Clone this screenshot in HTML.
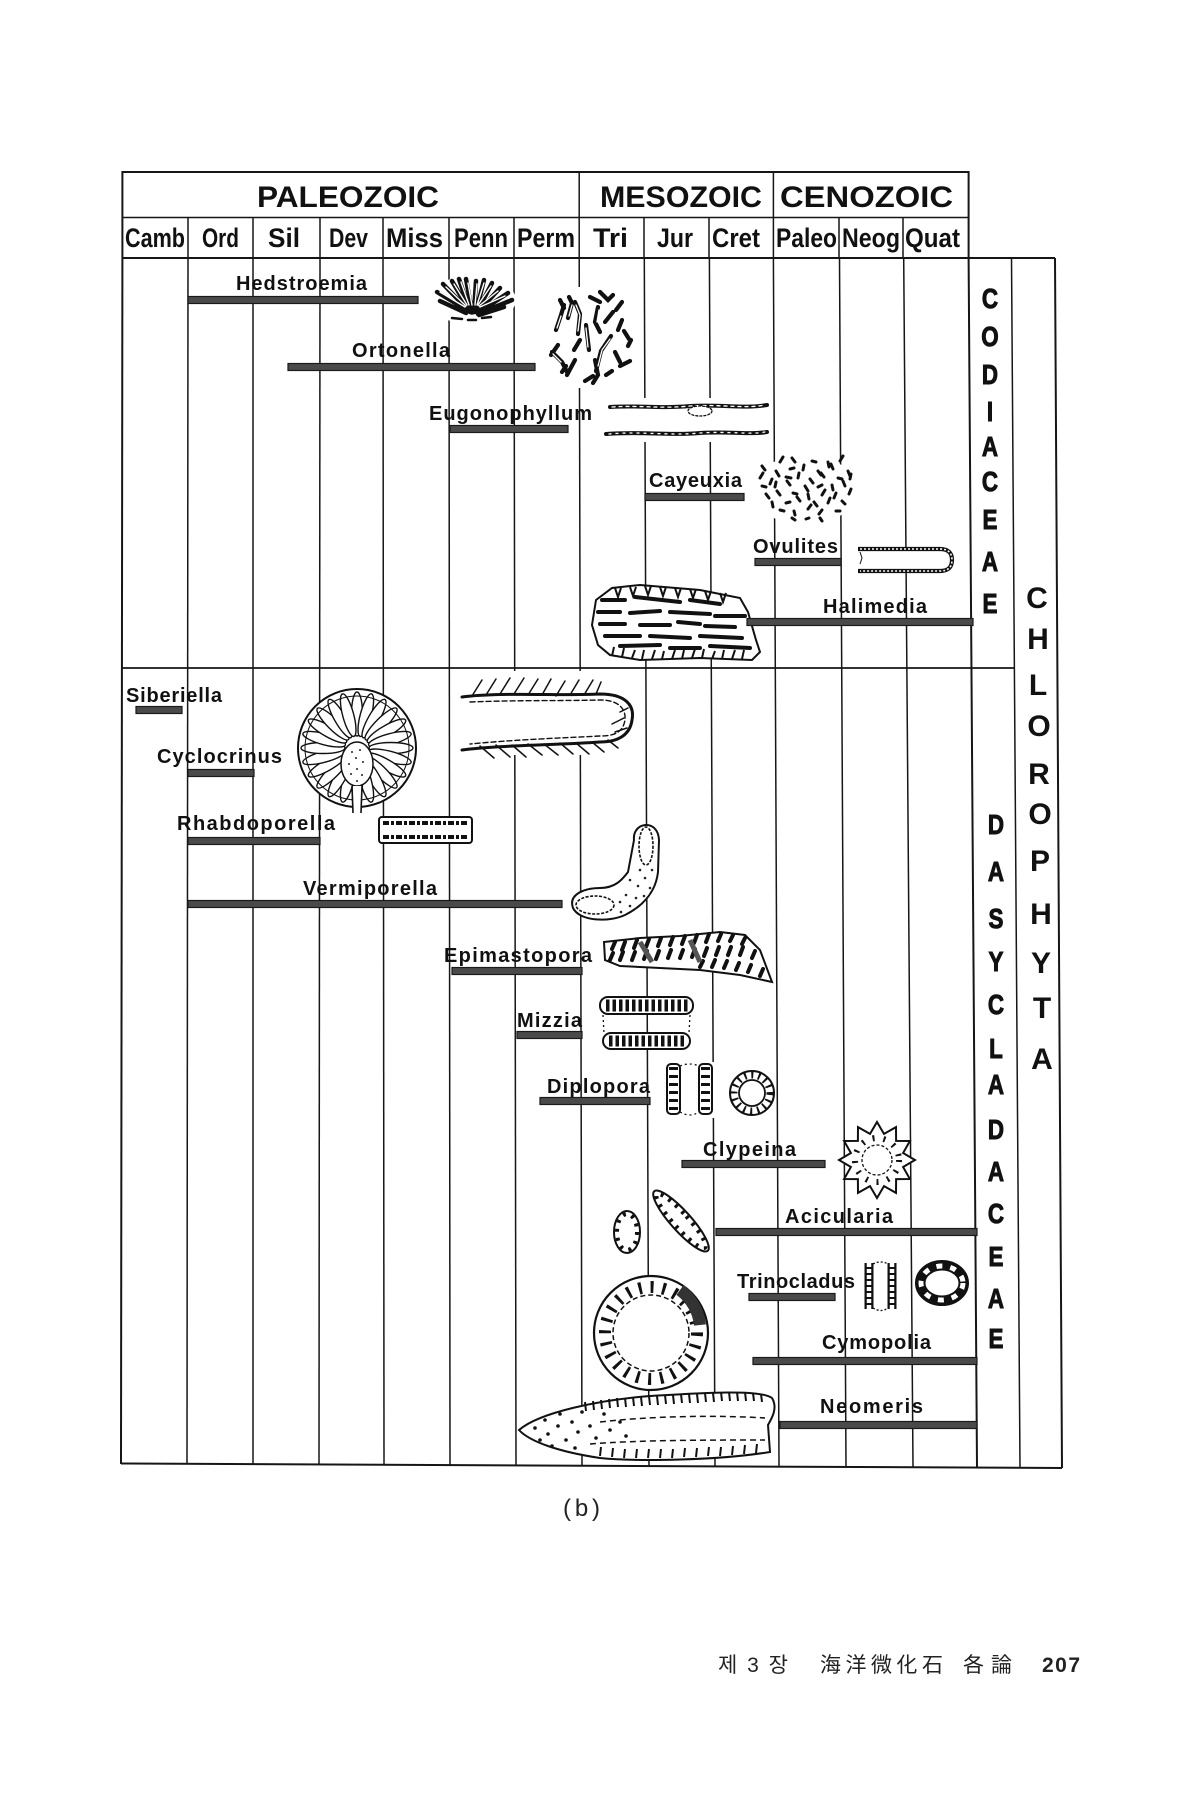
<!DOCTYPE html>
<html>
<head>
<meta charset="utf-8">
<style>
  html,body{margin:0;padding:0;background:#fff;}
  svg{display:block;}
  .lab{font-family:"Liberation Sans",sans-serif;font-weight:bold;font-size:20px;fill:#111;}
  .hdr{font-family:"Liberation Sans",sans-serif;font-weight:bold;font-size:30px;fill:#111;}
  .col{font-family:"Liberation Sans",sans-serif;font-weight:bold;font-size:27px;fill:#111;}
  .fam{font-family:"Liberation Sans",sans-serif;font-weight:bold;font-size:28px;fill:#111;stroke:#111;stroke-width:1;}
  .chl{font-family:"Liberation Sans",sans-serif;font-weight:bold;font-size:30px;fill:#111;}
  .bar{fill:#4a4a4a;stroke:#1a1a1a;stroke-width:1.2;}
  .ln{stroke:#161616;stroke-width:1.5;fill:none;}
  .fig{stroke:#111;fill:#fff;stroke-width:2;}
  .ink{stroke:#111;fill:none;}
</style>
</head>
<body>
<svg width="1200" height="1800" viewBox="0 0 1200 1800" xmlns="http://www.w3.org/2000/svg">
<rect x="0" y="0" width="1200" height="1800" fill="#fff"/>

<!-- ===== HEADER ===== -->
<g class="ln">
  <line x1="122" y1="172" x2="968.6" y2="172" stroke-width="2"/>
  <line x1="122" y1="217.5" x2="968.6" y2="217.5"/>
  <line x1="122" y1="258" x2="1055" y2="258" stroke-width="2"/>
  <line x1="122.4" y1="171" x2="122.4" y2="258" stroke-width="2"/>
  <line x1="579.2" y1="172" x2="579.2" y2="258"/>
  <line x1="773.4" y1="172" x2="773.4" y2="258"/>
  <line x1="968.6" y1="171" x2="968.6" y2="258" stroke-width="2"/>
  <line x1="188" y1="217" x2="188" y2="258"/>
  <line x1="253" y1="217" x2="253" y2="258"/>
  <line x1="320" y1="217" x2="320" y2="258"/>
  <line x1="383" y1="217" x2="383" y2="258"/>
  <line x1="449" y1="217" x2="449" y2="258"/>
  <line x1="514" y1="217" x2="514" y2="258"/>
  <line x1="644" y1="217" x2="644" y2="258"/>
  <line x1="709" y1="217" x2="709" y2="258"/>
  <line x1="839" y1="217" x2="839" y2="258"/>
  <line x1="903" y1="217" x2="903" y2="258"/>
</g>
<text class="hdr" x="257" y="207" textLength="182" lengthAdjust="spacingAndGlyphs">PALEOZOIC</text>
<text class="hdr" x="600" y="207" textLength="162" lengthAdjust="spacingAndGlyphs">MESOZOIC</text>
<text class="hdr" x="780" y="207" textLength="173" lengthAdjust="spacingAndGlyphs">CENOZOIC</text>

<text class="col" x="125" y="247" textLength="60" lengthAdjust="spacingAndGlyphs">Camb</text>
<text class="col" x="202" y="247" textLength="37" lengthAdjust="spacingAndGlyphs">Ord</text>
<text class="col" x="268" y="247" textLength="32" lengthAdjust="spacingAndGlyphs">Sil</text>
<text class="col" x="329" y="247" textLength="39" lengthAdjust="spacingAndGlyphs">Dev</text>
<text class="col" x="386" y="247" textLength="57" lengthAdjust="spacingAndGlyphs">Miss</text>
<text class="col" x="454" y="247" textLength="54" lengthAdjust="spacingAndGlyphs">Penn</text>
<text class="col" x="517" y="247" textLength="58" lengthAdjust="spacingAndGlyphs">Perm</text>
<text class="col" x="593" y="247" textLength="35" lengthAdjust="spacingAndGlyphs">Tri</text>
<text class="col" x="657" y="247" textLength="36" lengthAdjust="spacingAndGlyphs">Jur</text>
<text class="col" x="712" y="247" textLength="48" lengthAdjust="spacingAndGlyphs">Cret</text>
<text class="col" x="776" y="247" textLength="61" lengthAdjust="spacingAndGlyphs">Paleo</text>
<text class="col" x="842" y="247" textLength="58" lengthAdjust="spacingAndGlyphs">Neog</text>
<text class="col" x="905" y="247" textLength="55" lengthAdjust="spacingAndGlyphs">Quat</text>

<!-- ===== BODY GRID ===== -->
<g class="ln">
  <line x1="122.4" y1="258" x2="121" y2="1464" stroke-width="2"/>
  <line x1="188" y1="258" x2="187" y2="1464"/>
  <line x1="253" y1="258" x2="253" y2="1464"/>
  <line x1="320" y1="258" x2="319" y2="1464"/>
  <line x1="383" y1="258" x2="384" y2="1464"/>
  <line x1="449" y1="258" x2="450" y2="1465"/>
  <line x1="514" y1="258" x2="516" y2="1465"/>
  <line x1="579.2" y1="258" x2="582" y2="1465"/>
  <line x1="644.3" y1="258" x2="649" y2="1466"/>
  <line x1="709.4" y1="258" x2="715" y2="1466"/>
  <line x1="773.4" y1="258" x2="779" y2="1466"/>
  <line x1="839.5" y1="258" x2="846" y2="1467"/>
  <line x1="903.7" y1="258" x2="913" y2="1467"/>
  <line x1="968.6" y1="258" x2="977" y2="1467" stroke-width="2"/>
  <line x1="1011.5" y1="258" x2="1020" y2="1468"/>
  <line x1="1055" y1="258" x2="1062" y2="1468" stroke-width="2"/>
  <line x1="121" y1="1463.5" x2="1062" y2="1468" stroke-width="2"/>
  <line x1="122" y1="668" x2="1015" y2="668" stroke-width="1.8"/>
</g>

<!-- ===== FAMILY LETTERS ===== -->
<g transform="translate(990,0) scale(0.8,1)" class="fam" text-anchor="middle">
  <text x="0" y="308">C</text><text x="0" y="346">O</text><text x="0" y="384">D</text>
  <text x="0" y="421">I</text><text x="0" y="456">A</text><text x="0" y="491">C</text>
  <text x="0" y="529">E</text><text x="0" y="571">A</text><text x="0" y="613">E</text>
</g>
<g transform="translate(996,0) scale(0.8,1)" class="fam" text-anchor="middle">
  <text x="0" y="834">D</text><text x="0" y="881">A</text><text x="0" y="928">S</text>
  <text x="0" y="971">Y</text><text x="0" y="1014">C</text><text x="0" y="1058">L</text>
  <text x="0" y="1094">A</text><text x="0" y="1139">D</text><text x="0" y="1181">A</text>
  <text x="0" y="1223">C</text><text x="0" y="1266">E</text><text x="0" y="1308">A</text>
  <text x="0" y="1348">E</text>
</g>
<g class="chl" text-anchor="middle">
  <text x="1037" y="608">C</text><text x="1038" y="649">H</text><text x="1038" y="695">L</text>
  <text x="1039" y="736">O</text><text x="1039" y="784">R</text><text x="1040" y="824">O</text>
  <text x="1040" y="871">P</text><text x="1041" y="924">H</text><text x="1041" y="973">Y</text>
  <text x="1042" y="1018">T</text><text x="1042" y="1069">A</text>
</g>

<!-- ===== FIGURES (upper, Codiaceae) ===== -->
<!-- Hedstroemia -->
<ellipse cx="472" cy="300" rx="44" ry="24" fill="#fff"/>
<g stroke-linecap="round">
  <g stroke="#111" stroke-width="4.5" fill="none">
    <path d="M470 312 L437 292 M470 312 L443 284 M470 312 L452 281 M470 312 L459 279 M472 312 L466 279 M474 312 L476 281 M476 312 L484 280 M477 312 L492 283 M478 312 L500 288 M478 313 L508 293 M478 314 L512 300 M466 313 L440 301 M479 315 L504 307"/>
  </g>
  <g stroke="#fff" stroke-width="1.4" fill="none">
    <path d="M465 307 L440 292 M466 306 L446 287 M467 305 L454 284 M469 305 L461 282 M472 305 L468 283 M475 305 L477 284 M477 305 L484 283 M478 305 L491 286 M479 306 L498 291 M480 307 L505 296"/>
  </g>
  <circle cx="472" cy="311" r="3" class="ink" stroke-width="1.5"/>
  <path d="M452 318 l10 1 M468 320 l8 0 M482 318 l9 -1" class="ink" stroke-width="2.5"/>
</g>
<!-- Ortonella -->
<rect x="545" y="287" width="92" height="101" fill="#fff"/>
<g stroke-linecap="round" fill="none">
  <path stroke="#111" stroke-width="4.2" d="M556 330 l5 -15 l3 -10 M558 345 l-7 10 M552 352 l10 10 l5 10 M568 318 l4 -15 l-3 -6 M575 302 l5 12 l-2 20 M586 325 l3 25 M590 297 l10 5 M598 307 l-3 15 l5 10 M605 322 l8 -10 M611 336 l-10 15 l-5 20 M615 352 l5 10 M620 366 l10 -5 M575 360 l-8 15 M595 360 l3 15 l-5 8 M624 331 l5 8 M600 292 l8 8 l5 -5 M585 381 l8 -5 M606 375 l6 -4 M628 346 l3 -6 M562 372 l4 -6 M580 340 l-6 10 M616 310 l6 -8 M560 300 l4 8 M622 320 l-4 10"/>
  <path stroke="#fff" stroke-width="1.3" d="M557 328 l4 -12 M569 316 l3 -11 M576 305 l4 10 l-2 16 M586 328 l2 19 M599 310 l-2 12 M610 339 l-8 11 l-4 16 M553 354 l8 8"/>
</g>
<!-- Eugonophyllum -->
<rect x="600" y="398" width="172" height="44" fill="#fff"/>
<g stroke-linecap="round" fill="none">
  <path d="M610 407 C640 405 660 409 690 406 C720 404 745 409 767 405" stroke="#111" stroke-width="4"/>
  <path d="M612 407 C640 405 660 409 690 406 C720 404 745 409 765 405" stroke="#fff" stroke-width="1.3" stroke-dasharray="3 4"/>
  <ellipse cx="700" cy="411" rx="12" ry="5" stroke="#111" stroke-width="1.3" stroke-dasharray="2 2" fill="#fff"/>
  <path d="M606 434 C640 431 670 436 700 433 C730 431 750 435 767 432" stroke="#111" stroke-width="4"/>
  <path d="M609 434 C640 431 670 436 700 433 C730 431 750 435 765 432" stroke="#fff" stroke-width="1.3" stroke-dasharray="2 5"/>
</g>
<!-- Cayeuxia -->
<ellipse cx="805" cy="490" rx="52" ry="35" fill="#fff"/>
<path stroke="#111" stroke-width="3" stroke-linecap="round" fill="none" d="
M780 462l3-5M795 462l-3-4M812 461l4 1M828 462l1 5M840 461l3-5
M765 470l-3-4M776 471l3 5M790 469l4-1M803 470l1-5M818 471l3 4M833 469l-2-5M848 471l2 5
M760 478l3-5M772 479l-2 5M786 477l5 1M798 478l1-5M810 479l3 4M824 477l-3-4M838 478l4 1M850 479l1-5
M762 486l4 1M775 487l1-5M790 485l-3-4M805 486l3 5M818 487l4-2M832 485l1 5M845 486l-2-5
M766 494l3 4M780 495l-3-4M793 493l4 1M808 494l1 5M822 495l3-5M836 493l-2 5M849 494l2-5
M772 502l1 5M786 503l4-1M800 501l-3-4M814 502l3 4M828 503l2-5M842 501l3 3
M780 510l4 1M794 511l1 4M808 509l3-4M822 510l-3 4M836 511l4 0
M792 518l3 2M806 519l3-1M820 518l2 3"/>
<!-- Ovulites -->
<path d="M858 549 L940 549 Q952 549 952 560 Q952 571 940 571 L858 571" stroke="#111" stroke-width="4.2" fill="#fff"/>
<path d="M860 549 L940 549 Q952 549 952 560 Q952 571 940 571 L860 571" stroke="#fff" stroke-width="1.6" fill="none" stroke-dasharray="2 2"/>
<path d="M860 552 l2 6 l-2 6" class="ink" stroke-width="1"/>
<!-- Halimedia slab -->
<polygon points="596,600 612,588 640,585 700,590 740,598 748,612 756,640 760,652 752,660 700,658 640,660 610,655 598,645 592,625" class="fig"/>
<g stroke="#111" stroke-width="4" stroke-linecap="round">
  <path d="M602 600 L625 600 M635 597 L680 602 M690 600 L720 604 M598 612 L620 612 M630 613 L660 611 M670 612 L710 614 M715 616 L745 616 M600 624 L625 624 M640 625 L670 625 M678 622 L700 624 M705 626 L735 627 M605 636 L640 636 M650 636 L690 638 M700 636 L742 638 M620 646 L660 645 M670 648 L700 648 M710 646 L750 648"/>
</g>
<g stroke="#111" stroke-width="2" fill="none">
  <path d="M615 588 l3 9 l3-9 M630 587 l3 9 l3-9 M645 586 l3 9 l3-9 M660 587 l3 9 l3-9 M675 588 l3 9 l3-9 M690 589 l3 9 l3-9 M705 591 l3 9 l3-9 M720 593 l3 9 l3-9"/>
  <path d="M612 656 l2-9 M622 657 l2-9 M632 658 l3-8 M642 659 l2-9 M652 659 l3-9 M662 659 l2-8 M672 659 l3-9 M682 659 l2-9 M692 658 l3-9 M702 658 l2-9 M712 659 l3-8 M722 659 l2-9 M732 659 l3-9 M742 659 l2-9"/>
</g>

<!-- ===== LABELS & BARS (upper) ===== -->
<text class="lab" x="236" y="290" textLength="131" lengthAdjust="spacing">Hedstroemia</text>
<rect class="bar" x="188" y="296.5" width="230" height="7"/>
<text class="lab" x="352" y="357" textLength="98" lengthAdjust="spacing">Ortonella</text>
<rect class="bar" x="288" y="363.5" width="247" height="7"/>
<text class="lab" x="429" y="420" textLength="163" lengthAdjust="spacing">Eugonophyllum</text>
<rect class="bar" x="450" y="425.5" width="118" height="7"/>
<text class="lab" x="649" y="487" textLength="93" lengthAdjust="spacing">Cayeuxia</text>
<rect class="bar" x="645" y="493.5" width="99" height="7"/>
<text class="lab" x="753" y="553" textLength="85" lengthAdjust="spacing">Ovulites</text>
<rect class="bar" x="755" y="558.5" width="86" height="7"/>
<text class="lab" x="823" y="613" textLength="104" lengthAdjust="spacing">Halimedia</text>
<rect class="bar" x="747" y="618.5" width="226" height="7"/>

<!-- ===== FIGURES (lower, Dasycladaceae) ===== -->
<!-- hook-shaped filament -->
<rect x="458" y="671" width="180" height="84" fill="#fff"/>
<g fill="none" stroke="#111" stroke-linecap="round">
  <path d="M462 697 C500 692 560 696 600 694 C625 694 635 705 632 720 C630 735 618 742 600 742 C560 745 500 745 462 750" stroke-width="3"/>
  <path d="M470 702 C520 700 560 701 600 700 C620 700 626 710 625 720 C623 732 615 736 600 736 C560 738 510 740 470 744" stroke-width="1.4" stroke-dasharray="5 3"/>
  <path d="M472 696 l10 -16 M486 695 l10 -16 M500 694 l10 -16 M514 694 l10 -16 M528 695 l10 -16 M542 695 l9 -16 M556 696 l9 -15 M570 695 l9 -15 M584 695 l9 -15 M596 694 l5 -12" stroke-width="1.5"/>
  <path d="M480 746 l14 12 M496 745 l14 12 M512 745 l14 12 M528 744 l14 11 M544 744 l14 11 M560 743 l13 11 M576 743 l13 11 M592 742 l12 10 M608 740 l10 8" stroke-width="1.5"/>
  <path d="M612 724 l12 -6 M615 732 l12 -4 M620 712 l8 -4" stroke-width="1.5"/>
</g>
<!-- Cyclocrinus -->
<circle cx="357" cy="748" r="59" class="fig" stroke-width="2.2"/>
<g fill="#fff" stroke="#111" stroke-width="1.4">
  <ellipse cx="357" cy="714" rx="5.5" ry="22" transform="rotate(0 357 748)"/>
  <ellipse cx="357" cy="714" rx="5.5" ry="22" transform="rotate(15 357 748)"/>
  <ellipse cx="357" cy="714" rx="5.5" ry="22" transform="rotate(30 357 748)"/>
  <ellipse cx="357" cy="714" rx="5.5" ry="22" transform="rotate(45 357 748)"/>
  <ellipse cx="357" cy="714" rx="5.5" ry="22" transform="rotate(60 357 748)"/>
  <ellipse cx="357" cy="714" rx="5.5" ry="22" transform="rotate(75 357 748)"/>
  <ellipse cx="357" cy="714" rx="5.5" ry="22" transform="rotate(90 357 748)"/>
  <ellipse cx="357" cy="714" rx="5.5" ry="22" transform="rotate(105 357 748)"/>
  <ellipse cx="357" cy="714" rx="5.5" ry="22" transform="rotate(120 357 748)"/>
  <ellipse cx="357" cy="714" rx="5.5" ry="22" transform="rotate(135 357 748)"/>
  <ellipse cx="357" cy="714" rx="5.5" ry="22" transform="rotate(150 357 748)"/>
  <ellipse cx="357" cy="714" rx="5.5" ry="22" transform="rotate(165 357 748)"/>
  <ellipse cx="357" cy="714" rx="5.5" ry="22" transform="rotate(180 357 748)"/>
  <ellipse cx="357" cy="714" rx="5.5" ry="22" transform="rotate(195 357 748)"/>
  <ellipse cx="357" cy="714" rx="5.5" ry="22" transform="rotate(210 357 748)"/>
  <ellipse cx="357" cy="714" rx="5.5" ry="22" transform="rotate(225 357 748)"/>
  <ellipse cx="357" cy="714" rx="5.5" ry="22" transform="rotate(240 357 748)"/>
  <ellipse cx="357" cy="714" rx="5.5" ry="22" transform="rotate(255 357 748)"/>
  <ellipse cx="357" cy="714" rx="5.5" ry="22" transform="rotate(270 357 748)"/>
  <ellipse cx="357" cy="714" rx="5.5" ry="22" transform="rotate(285 357 748)"/>
  <ellipse cx="357" cy="714" rx="5.5" ry="22" transform="rotate(300 357 748)"/>
  <ellipse cx="357" cy="714" rx="5.5" ry="22" transform="rotate(315 357 748)"/>
  <ellipse cx="357" cy="714" rx="5.5" ry="22" transform="rotate(330 357 748)"/>
  <ellipse cx="357" cy="714" rx="5.5" ry="22" transform="rotate(345 357 748)"/>
</g>
<circle cx="357" cy="748" r="52" fill="none" stroke="#111" stroke-width="1"/>
<ellipse cx="357" cy="764" rx="16" ry="22" fill="#fff" stroke="#111" stroke-width="1.5"/>
<g fill="#222">
  <circle cx="352" cy="752" r="1"/><circle cx="360" cy="750" r="1"/><circle cx="356" cy="758" r="1"/>
  <circle cx="349" cy="764" r="1"/><circle cx="363" cy="762" r="1"/><circle cx="357" cy="769" r="1"/>
  <circle cx="351" cy="774" r="1"/><circle cx="362" cy="775" r="1"/><circle cx="357" cy="781" r="1"/>
</g>
<rect x="353" y="786" width="8" height="26" fill="#fff"/>
<path d="M352 786 L353 813 M362 786 L361 813" stroke="#111" stroke-width="1.6" fill="none"/>
<!-- Rhabdoporella -->
<rect x="379" y="817" width="93" height="26" rx="3" class="fig" stroke-width="1.8"/>
<path d="M383 823 L468 823 M383 837 L468 837" stroke="#111" stroke-width="4" stroke-dasharray="6 2 3 2" fill="none"/>
<!-- Vermiporella -->
<path d="M634 840 C632 822 658 818 659 840 L658 872 C656 890 645 905 625 915 C610 922 580 922 573 908 C568 894 585 888 600 888 C615 888 622 880 628 872 Z" class="fig" stroke-width="2.2"/>
<g fill="#222">
  <circle cx="630" cy="880" r="1.3"/><circle cx="638" cy="886" r="1.3"/><circle cx="645" cy="878" r="1.3"/>
  <circle cx="650" cy="888" r="1.3"/><circle cx="626" cy="895" r="1.3"/><circle cx="636" cy="898" r="1.3"/>
  <circle cx="644" cy="896" r="1.3"/><circle cx="630" cy="906" r="1.3"/><circle cx="620" cy="902" r="1.3"/>
  <circle cx="652" cy="870" r="1.3"/><circle cx="640" cy="870" r="1.3"/><circle cx="621" cy="912" r="1.3"/>
</g>
<ellipse cx="646" cy="846" rx="7" ry="19" fill="#fff" stroke="#111" stroke-width="1.6" stroke-dasharray="3 1.5"/>
<ellipse cx="595" cy="905" rx="19" ry="9" fill="#fff" stroke="#111" stroke-width="1.6" stroke-dasharray="3 1.5"/>
<!-- Epimastopora -->
<polygon points="604,942 640,938 680,936 720,932 745,935 760,950 772,982 740,975 700,970 660,968 620,966 605,960" class="fig" stroke-width="1.6"/>
<path stroke="#111" stroke-width="4" stroke-linecap="round" fill="none" d="
M612 949l3-7M622 950l3-8M634 948l3-8M646 947l3-8M658 946l3-8M670 945l3-8M682 944l3-8M694 943l3-8M706 942l3-8M718 941l3-7M730 941l3-6M742 944l3-6
M610 960l3-7M620 960l3-8M632 960l3-8M644 959l3-8M656 959l3-8M668 958l3-8M680 958l3-8M692 957l3-8M704 956l3-8M716 955l3-8M728 955l3-8M740 955l3-8M752 958l3-7
M700 967l3-6M712 967l3-7M724 968l3-7M736 970l3-7M748 972l3-7M760 976l3-7"/>
<path d="M640 942 L652 962 M690 940 L700 962" stroke="#555" stroke-width="5" fill="none"/>
<!-- Mizzia -->
<rect x="600" y="997" width="93" height="17" rx="8" class="fig" stroke-width="2.2"/>
<line x1="606" y1="1005.5" x2="688" y2="1005.5" stroke="#111" stroke-width="12" stroke-dasharray="3.5 3"/>
<rect x="603" y="1033" width="87" height="16" rx="8" class="fig" stroke-width="2.2"/>
<line x1="609" y1="1041" x2="685" y2="1041" stroke="#111" stroke-width="11" stroke-dasharray="3.5 3"/>
<path d="M603 1015 L604 1033 M690 1015 L689 1033" stroke="#111" stroke-width="1.3" stroke-dasharray="2 3" fill="none"/>
<!-- Diplopora -->
<rect x="665" y="1062" width="50" height="56" fill="#fff"/>
<rect x="667" y="1064" width="13" height="50" rx="4" class="fig" stroke-width="2"/>
<line x1="673.5" y1="1067" x2="673.5" y2="1112" stroke="#111" stroke-width="9" stroke-dasharray="3 5"/>
<rect x="699" y="1064" width="13" height="50" rx="4" class="fig" stroke-width="2"/>
<line x1="705.5" y1="1067" x2="705.5" y2="1112" stroke="#111" stroke-width="9" stroke-dasharray="3 5"/>
<path d="M680 1066 Q690 1062 699 1066 M680 1112 Q690 1118 699 1112" stroke="#111" stroke-width="1.3" stroke-dasharray="2 3" fill="none"/>
<circle cx="752" cy="1093" r="22" class="fig" stroke-width="2.2"/>
<circle cx="752" cy="1093" r="18" fill="none" stroke="#111" stroke-width="7" stroke-dasharray="2 5"/>
<circle cx="752" cy="1093" r="13" fill="#fff" stroke="#111" stroke-width="1.8"/>
<!-- Clypeina -->
<polygon points="877,1122 884,1133.9 896,1127.1 896.1,1140.9 909.9,1141 903.1,1153 915,1160 903.1,1167 909.9,1179 896.1,1179.1 896,1192.9 884,1186.1 877,1198 870,1186.1 858,1192.9 857.9,1179.1 844.1,1179 850.9,1167 839,1160 850.9,1153 844.1,1141 857.9,1140.9 858,1127.1 870,1133.9" class="fig" stroke-width="1.8"/>
<circle cx="877" cy="1160" r="15" fill="#fff" stroke="#111" stroke-width="1.3" stroke-dasharray="3 2"/>
<circle cx="877" cy="1160" r="22" fill="none" stroke="#111" stroke-width="6" stroke-dasharray="2 9"/>
<!-- small oval + spindle -->
<ellipse cx="627" cy="1232" rx="13" ry="21" class="fig" stroke-width="2"/>
<ellipse cx="627" cy="1232" rx="10" ry="18" fill="none" stroke="#111" stroke-width="4" stroke-dasharray="3 6"/>
<ellipse cx="681" cy="1221" rx="10" ry="40" class="fig" stroke-width="2" transform="rotate(-42 681 1221)"/>
<ellipse cx="681" cy="1221" rx="7" ry="36" fill="none" stroke="#111" stroke-width="4" stroke-dasharray="3 6" transform="rotate(-42 681 1221)"/>
<!-- Trinocladus figures -->
<rect x="863" y="1260" width="36" height="52" fill="#fff"/>
<line x1="869" y1="1263" x2="869" y2="1309" stroke="#111" stroke-width="9"/>
<line x1="869" y1="1263" x2="869" y2="1309" stroke="#fff" stroke-width="4.5" stroke-dasharray="4 2"/>
<line x1="892" y1="1263" x2="892" y2="1309" stroke="#111" stroke-width="9"/>
<line x1="892" y1="1263" x2="892" y2="1309" stroke="#fff" stroke-width="4.5" stroke-dasharray="4 2"/>
<path d="M873 1264 Q881 1260 888 1264 M873 1308 Q881 1313 888 1308" stroke="#111" stroke-width="1.3" stroke-dasharray="2 2" fill="none"/>
<ellipse cx="942" cy="1283" rx="26" ry="22" fill="#fff" stroke="#111" stroke-width="2"/>
<ellipse cx="942" cy="1283" rx="21" ry="17" fill="none" stroke="#111" stroke-width="9"/>
<ellipse cx="942" cy="1283" rx="21" ry="17" fill="none" stroke="#fff" stroke-width="5" stroke-dasharray="6 8"/>
<!-- big ring -->
<circle cx="651" cy="1333" r="57" fill="#fff" stroke="#111" stroke-width="2.2"/>
<circle cx="651" cy="1333" r="46" fill="none" stroke="#111" stroke-width="12" stroke-dasharray="3 9"/>
<path d="M680 1290 A50 50 0 0 1 700 1325" fill="none" stroke="#333" stroke-width="12"/>
<circle cx="651" cy="1333" r="38" fill="#fff" stroke="#111" stroke-width="1.5" stroke-dasharray="5 3"/>
<!-- Neomeris spindle -->
<path d="M519 1430 C540 1412 600 1400 650 1396 C700 1393 760 1389 772 1398 C778 1408 772 1418 768 1425 L770 1452 C720 1460 640 1462 600 1458 C560 1452 530 1442 519 1430 Z" class="fig" stroke-width="2.2"/>
<path d="M585 1402 l1 9 M593 1401 l1 9 M601 1400 l1 9 M609 1399 l1 9 M617 1398 l1 9 M625 1398 l1 9 M633 1397 l1 9 M641 1397 l1 9 M649 1396 l1 9 M657 1396 l1 9 M665 1395 l1 9 M673 1395 l1 9 M681 1394 l1 9 M689 1394 l1 9 M697 1394 l1 9 M705 1393 l1 9 M713 1393 l1 9 M721 1392 l1 9 M729 1392 l1 9 M737 1392 l1 9 M745 1392 l1 9 M753 1393 l1 8 M761 1394 l1 8" stroke="#111" stroke-width="2" fill="none"/>
<path d="M600 1456 l1 -9 M612 1457 l1 -9 M624 1458 l1 -9 M636 1458 l1 -9 M648 1458 l1 -9 M660 1458 l1 -9 M672 1458 l1 -9 M684 1457 l1 -9 M696 1457 l1 -9 M708 1456 l1 -9 M720 1456 l1 -9 M732 1455 l1 -9 M744 1454 l1 -9 M756 1453 l1 -9" stroke="#111" stroke-width="2" fill="none"/>
<path d="M600 1422 C650 1416 720 1415 765 1418 M590 1444 C640 1440 710 1440 765 1440" stroke="#111" stroke-width="1.5" stroke-dasharray="6 4" fill="none"/>
<g fill="#111">
  <circle cx="535" cy="1428" r="1.8"/><circle cx="545" cy="1420" r="1.8"/><circle cx="548" cy="1434" r="1.8"/>
  <circle cx="558" cy="1426" r="1.8"/><circle cx="560" cy="1414" r="1.8"/><circle cx="566" cy="1440" r="1.8"/>
  <circle cx="572" cy="1422" r="1.8"/><circle cx="578" cy="1432" r="1.8"/><circle cx="582" cy="1412" r="1.8"/>
  <circle cx="590" cy="1426" r="1.8"/><circle cx="596" cy="1438" r="1.8"/><circle cx="604" cy="1414" r="1.8"/>
  <circle cx="610" cy="1430" r="1.8"/><circle cx="620" cy="1422" r="1.8"/><circle cx="626" cy="1436" r="1.8"/>
  <circle cx="540" cy="1440" r="1.8"/><circle cx="552" cy="1446" r="1.8"/><circle cx="575" cy="1448" r="1.8"/>
</g>

<!-- ===== LABELS & BARS (lower) ===== -->
<text class="lab" x="126" y="702" textLength="96" lengthAdjust="spacing">Siberiella</text>
<rect class="bar" x="136" y="706.5" width="46" height="7"/>
<text class="lab" x="157" y="763" textLength="125" lengthAdjust="spacing">Cyclocrinus</text>
<rect class="bar" x="188" y="769.5" width="66" height="7"/>
<text class="lab" x="177" y="830" textLength="158" lengthAdjust="spacing">Rhabdoporella</text>
<rect class="bar" x="188" y="837.5" width="132" height="7"/>
<text class="lab" x="303" y="895" textLength="134" lengthAdjust="spacing">Vermiporella</text>
<rect class="bar" x="188" y="900.5" width="374" height="7"/>
<text class="lab" x="444" y="962" textLength="148" lengthAdjust="spacing">Epimastopora</text>
<rect class="bar" x="452" y="967.5" width="130" height="7"/>
<text class="lab" x="517" y="1027" textLength="65" lengthAdjust="spacing">Mizzia</text>
<rect class="bar" x="517" y="1031.5" width="65" height="7"/>
<text class="lab" x="547" y="1093" textLength="103" lengthAdjust="spacing">Diplopora</text>
<rect class="bar" x="540" y="1097.5" width="110" height="7"/>
<text class="lab" x="703" y="1156" textLength="93" lengthAdjust="spacing">Clypeina</text>
<rect class="bar" x="682" y="1160.5" width="143" height="7"/>
<text class="lab" x="785" y="1223" textLength="108" lengthAdjust="spacing">Acicularia</text>
<rect class="bar" x="716" y="1228.5" width="261" height="7"/>
<text class="lab" x="737" y="1288" textLength="118" lengthAdjust="spacing">Trinocladus</text>
<rect class="bar" x="749" y="1293.5" width="86" height="7"/>
<text class="lab" x="822" y="1349" textLength="109" lengthAdjust="spacing">Cymopolia</text>
<rect class="bar" x="753" y="1357.5" width="224" height="7"/>
<text class="lab" x="820" y="1413" textLength="103" lengthAdjust="spacing">Neomeris</text>
<rect class="bar" x="780" y="1421.5" width="197" height="7"/>

<!-- ===== CAPTION & FOOTER ===== -->
<text x="563" y="1516" font-family="Liberation Sans, sans-serif" font-size="24" fill="#222" textLength="37" lengthAdjust="spacing">(b)</text>

<g font-family="'Liberation Sans','Noto Sans CJK KR',sans-serif" font-size="21" fill="#222">
  <text x="718" y="1672" textLength="70" lengthAdjust="spacing">제 3 장</text>
  <text x="820" y="1672" textLength="123" lengthAdjust="spacing">海洋微化石</text>
  <text x="963" y="1672" textLength="49" lengthAdjust="spacing">各論</text>
  <text x="1042" y="1672" font-weight="bold" textLength="38" lengthAdjust="spacing">207</text>
</g>
</svg>
</body>
</html>
